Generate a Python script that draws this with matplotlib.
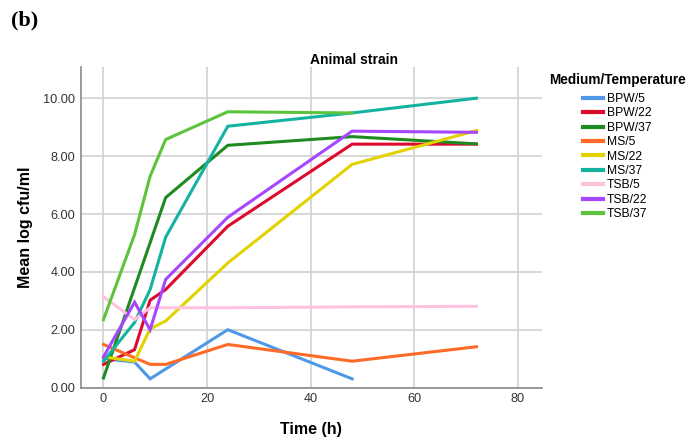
import matplotlib
matplotlib.use("Agg")
import matplotlib.pyplot as plt

series_names = ["BPW/5", "BPW/22", "BPW/37", "MS/5", "MS/22", "MS/37", "TSB/5", "TSB/22", "TSB/37"]
colors = ["#4f98e8", "#de0a2e", "#1f8a1f", "#ff6a28", "#e2d200", "#14b3a0", "#ffc2de", "#a646ff", "#5cc43c"]

t_bpw5 = [0, 6, 9, 24, 48]
v_bpw5 = [1.00, 0.88, 0.30, 2.00, 0.30]
t_bpw22 = [0, 6, 9, 12, 24, 48, 72]
v_bpw22 = [0.80, 1.31, 3.02, 3.39, 5.58, 8.42, 8.42]
t_bpw37 = [0, 12, 24, 48, 72]
v_bpw37 = [0.33, 6.57, 8.38, 8.68, 8.43]
t_ms5 = [0, 9, 12, 24, 48, 72]
v_ms5 = [1.49, 0.80, 0.80, 1.49, 0.91, 1.41]
t_ms22 = [0, 6, 9, 12, 24, 48, 72]
v_ms22 = [1.06, 0.91, 2.03, 2.30, 4.31, 7.72, 8.89]
t_ms37 = [0, 6, 9, 12, 24, 48, 72]
v_ms37 = [0.91, 2.25, 3.39, 5.20, 9.04, 9.50, 10.01]
t_tsb5 = [0, 6, 9, 12, 24, 48, 72]
v_tsb5 = [3.14, 2.35, 2.76, 2.76, 2.76, 2.79, 2.81]
t_tsb22 = [0, 6, 9, 12, 24, 48, 72]
v_tsb22 = [1.06, 2.95, 2.00, 3.74, 5.89, 8.87, 8.83]
t_tsb37 = [0, 6, 9, 12, 24, 48]
v_tsb37 = [2.35, 5.29, 7.31, 8.58, 9.54, 9.50]

times = [t_bpw5, t_bpw22, t_bpw37, t_ms5, t_ms22, t_ms37, t_tsb5, t_tsb22, t_tsb37]
values = [v_bpw5, v_bpw22, v_bpw37, v_ms5, v_ms22, v_ms37, v_tsb5, v_tsb22, v_tsb37]

x_ticks = [0, 20, 40, 60, 80]
y_ticks = [0, 2, 4, 6, 8, 10]

plt.rcParams['font.family'] = ['Liberation Sans', 'DejaVu Sans']

fig = plt.figure(figsize=(7.0, 4.44), dpi=100)
ax = fig.add_axes([80.7/700, 1-387.5/444, (541.7-80.7)/700, (387.5-66.7)/444])

for tt, vv, c, n in zip(times, values, colors, series_names):
    ax.plot(tt, vv, color=c, lw=2.2, label=n, solid_joinstyle='miter', zorder=3)

ax.set_xlim(-4.4, 84.6)
ax.set_ylim(0, 11.1)
ax.set_xticks(x_ticks)
ax.set_yticks(y_ticks)
ax.set_yticklabels([f"{v:.2f}" for v in y_ticks])
ax.grid(True, color="#d4d4d4", lw=1.3, zorder=0)
ax.tick_params(length=0, labelsize=9.2, colors="#333333", pad=4)
for s in ["top", "right"]:
    ax.spines[s].set_visible(False)
for s in ["left", "bottom"]:
    ax.spines[s].set_color("#8a8a8a")
    ax.spines[s].set_linewidth(1.2)

ax.set_title("Animal strain", fontsize=10, fontweight="bold", pad=2, x=(354-80.7)/461)
ax.set_xlabel("Time (h)", fontsize=11.5, fontweight="bold", labelpad=12)
ax.set_ylabel("Mean log cfu/ml", fontsize=11.5, fontweight="bold", labelpad=7)

leg = ax.legend(loc="upper center", bbox_to_anchor=(617/700, 1-73/444),
                bbox_transform=fig.transFigure, frameon=False,
                title="Medium/Temperature", fontsize=8.7, handlelength=1.67,
                handletextpad=0.33, labelspacing=0.2, borderaxespad=0.0, borderpad=0.0)
leg.get_title().set_fontweight("bold")
leg.get_title().set_fontsize(9.8)
leg._legend_box.sep = 4.3
for line in leg.get_lines():
    line.set_linewidth(3)

fig.text(11/700, 1-20/444, "(b)", fontsize=16, fontweight="bold",
         family=["Liberation Serif", "DejaVu Serif"], va="center", ha="left")

fig.savefig("out.png", dpi=100)
